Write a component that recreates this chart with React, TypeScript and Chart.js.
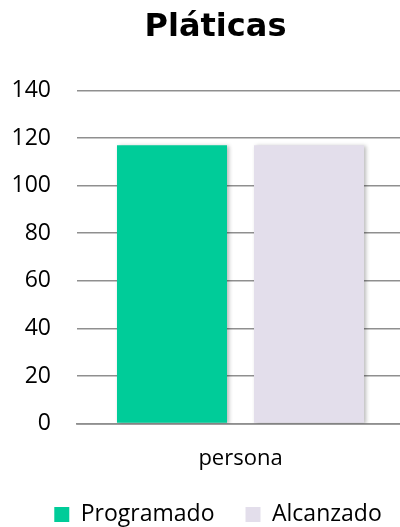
import React, { useEffect, useRef } from "react";
import { Chart, registerables } from "chart.js";

Chart.register(...registerables);

const categories = ["persona"];
const programado = [117];
const alcanzado = [117];
const seriesNames = ["Programado", "Alcanzado"];
const seriesColors = ["#00CC99", "#E3DEEB"];
const titleText = "Pláticas";
const yMin = 0;
const yMax = 140;
const yStep = 20;

const FONT = "'Open Sans', sans-serif";
const TITLE_FONT = "'DejaVu Sans', sans-serif";

const shadowPlugin = {
  id: "barShadow",
  beforeDatasetsDraw(chart: any) {
    const ctx = chart.ctx;
    ctx.save();
    ctx.shadowColor = "rgba(0,0,0,0.28)";
    ctx.shadowBlur = 4;
    ctx.shadowOffsetX = 2;
    ctx.shadowOffsetY = 1;
  },
  afterDatasetsDraw(chart: any) {
    chart.ctx.restore();
  },
};

const offsetPlugin = {
  id: "boxOffsets",
  afterLayout(chart: any) {
    if (chart.titleBlock) {
      chart.titleBlock.left = 27;
      chart.titleBlock.right = 404;
    }
    if (chart.legend) {
      chart.legend.left = 16;
      chart.legend.right = 420;
      chart.legend.top = chart.legend.top - 22;
    }
  },
};

export default function App() {
  const ref = useRef<HTMLCanvasElement | null>(null);

  useEffect(() => {
    document.body.style.margin = "0";
    document.body.style.overflow = "hidden";
    const canvas = ref.current;
    if (!canvas) return;
    const chart = new Chart(canvas, {
      type: "bar",
      data: {
        labels: categories,
        datasets: [
          {
            label: seriesNames[0],
            data: programado,
            backgroundColor: seriesColors[0],
            borderWidth: 0,
          },
          {
            label: seriesNames[1],
            data: alcanzado,
            backgroundColor: seriesColors[1],
            borderWidth: 0,
          },
        ],
      },
      plugins: [shadowPlugin, offsetPlugin],
      options: {
        animation: false,
        responsive: false,
        maintainAspectRatio: false,
        datasets: {
          bar: {
            categoryPercentage: 0.838,
            barPercentage: 0.803,
          },
        },
        layout: {
          padding: { left: 0, right: 0, top: 0, bottom: -31 },
        },
        plugins: {
          title: {
            display: true,
            text: titleText,
            color: "#000",
            font: { family: TITLE_FONT, size: 32, weight: "bold" },
            padding: { top: 8, bottom: 44 },
          },
          legend: {
            display: true,
            position: "bottom",
            labels: {
              color: "#000",
              font: { family: FONT, size: 23 },
              boxWidth: 15,
              boxHeight: 15,
              padding: 31,
            },
          },
          tooltip: { enabled: false },
        },
        scales: {
          x: {
            grid: { display: false, drawTicks: false },
            border: { display: true, color: "#8f8f8f", width: 1.8 },
            ticks: {
              color: "#000",
              font: { family: FONT, size: 22 },
              padding: 22,
            },
          },
          y: {
            min: yMin,
            max: yMax,
            afterFit(scale: any) {
              scale.width = 77;
            },
            grid: { color: "#8f8f8f", lineWidth: 1.6, drawTicks: false },
            border: { display: false },
            ticks: {
              stepSize: yStep,
              color: "#000",
              font: { family: FONT, size: 23 },
              padding: 26,
            },
          },
        },
      },
    });
    return () => chart.destroy();
  }, []);

  return (
    <div style={{ position: "absolute", left: 0, top: 0, width: 400, height: 527, overflow: "hidden" }}>
      <canvas ref={ref} width={404} height={527} style={{ display: "block" }} />
    </div>
  );
}
